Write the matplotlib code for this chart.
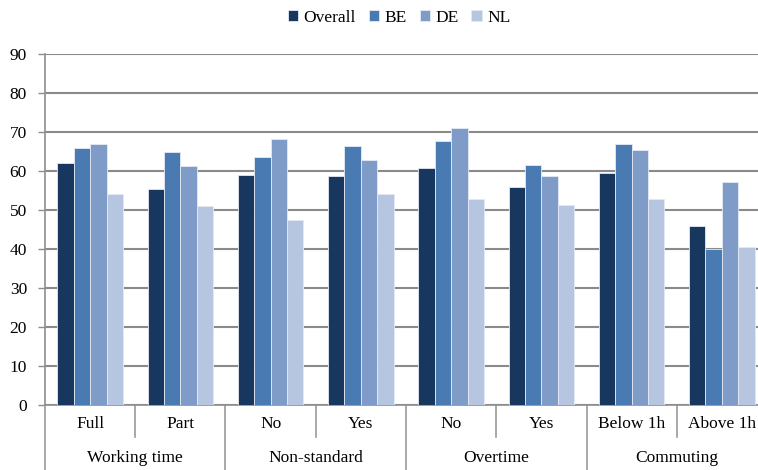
import numpy as np
import matplotlib.pyplot as plt

plt.rcParams['font.family'] = ['Liberation Serif', 'DejaVu Serif']
plt.rcParams['font.size'] = 12

# subcategories and their groups along the x axis
categories = ['Full', 'Part', 'No', 'Yes', 'No', 'Yes', 'Below 1h', 'Above 1h']
groups = ['Working time', 'Non-standard', 'Overtime', 'Commuting']

series = ['Overall', 'BE', 'DE', 'NL']
overall = [62.0, 55.4, 58.9, 58.8, 60.7, 56.0, 59.5, 46.0]
be = [65.9, 64.9, 63.7, 66.5, 67.6, 61.5, 66.9, 39.9]
de = [66.9, 61.4, 68.3, 62.9, 70.9, 58.8, 65.4, 57.2]
nl = [54.2, 51.1, 47.5, 54.2, 52.8, 51.4, 52.9, 40.6]
colors = ['#17375e', '#4a7ab2', '#7f9cc8', '#b6c5e0']

fig = plt.figure(figsize=(7.58, 4.70), dpi=100)
ax = fig.add_axes([45 / 758, 65 / 470, 722 / 758, 351 / 470])

x = np.arange(len(categories))
w = 0.182
for i, (vals, name, col) in enumerate(zip([overall, be, de, nl], series, colors)):
    ax.bar(x + (i - 1.5) * w, vals, w, color=col, label=name,
           edgecolor='#e4eaf3', linewidth=0.6, zorder=3)

ax.set_xlim(-0.5, len(categories) - 0.5)
ax.set_ylim(0, 90)
ax.set_yticks(np.arange(0, 91, 10))
ax.yaxis.grid(True, color='#8a8a8a', linewidth=1.5, zorder=0)
ax.set_axisbelow(True)
ax.set_xticks([])
ax.tick_params(axis='y', length=5, width=1, color='#8e8e8e', pad=8,
               labelsize=12.5)
for s in ['top', 'right']:
    ax.spines[s].set_visible(False)
ax.spines['left'].set_color('#8e8e8e')
ax.spines['bottom'].set_color('#8e8e8e')
ax.spines['left'].set_linewidth(1.2)
ax.spines['bottom'].set_linewidth(1.2)

# two-level category axis
tr = ax.get_xaxis_transform()
for b in [0.5, 2.5, 4.5, 6.5]:
    ax.plot([b, b], [0, -0.091], transform=tr, color='#9a9a9a',
            linewidth=1.2, clip_on=False)
for b in [-0.5, 1.5, 3.5, 5.5, 7.5]:
    ax.plot([b, b], [0, -0.19], transform=tr, color='#9a9a9a',
            linewidth=1.2, clip_on=False)
for xi, lab in zip(x, categories):
    ax.text(xi, -0.054, lab, transform=tr, ha='center', va='center',
            fontsize=12.5)
for gi, lab in enumerate(groups):
    ax.text(2 * gi + 0.5, -0.151, lab, transform=tr, ha='center',
            va='center', fontsize=12.5)

fig.legend(loc='center', bbox_to_anchor=(399 / 758, 1 - 18 / 470), ncol=4,
           frameon=False, handlelength=0.6, handleheight=0.6,
           handletextpad=0.3, columnspacing=0.75, fontsize=12.5)

fig.savefig('out.png', dpi=100)
